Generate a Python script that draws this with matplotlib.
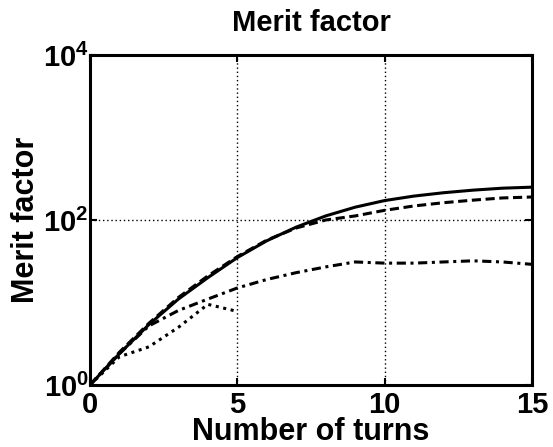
import matplotlib
matplotlib.use('Agg')
import matplotlib.pyplot as plt

plt.rcParams['font.family'] = ['Liberation Sans', 'DejaVu Sans']
plt.rcParams['font.weight'] = 'bold'
plt.rcParams['mathtext.fontset'] = 'custom'
plt.rcParams['mathtext.rm'] = 'Liberation Sans:bold'
plt.rcParams['mathtext.bf'] = 'Liberation Sans:bold'
plt.rcParams['mathtext.it'] = 'Liberation Sans:bold'

# values
turns = list(range(16))
solid = [1, 2.4, 5.4, 11, 20, 35, 56, 82, 112, 143, 172, 195, 214, 230, 243, 250]
dashed = [1, 2.5, 5.6, 11.5, 21, 36, 57, 80, 100, 112, 131, 148, 162, 174, 185, 190]
dashdot = [1, 2.4, 5.2, 8, 11, 15, 19, 23, 27, 31, 30, 30, 31, 32, 31, 29]
dot_turns = [0, 1, 2, 3, 4, 5]
dotted = [1, 2.2, 2.9, 5, 9.5, 7.8]

xticks = [0, 5, 10, 15]
yticks = [1, 100, 10000]
ytick_labels = [r'$10^{0}$', r'$10^{2}$', r'$10^{4}$']

fig = plt.figure(figsize=(5.53, 4.47), dpi=100)
ax = fig.add_axes([0.1627, 0.1387, 0.7993, 0.7383])

lw = 2.2
ax.plot(turns, solid, color='black', linestyle='-', linewidth=lw)
ax.plot(turns, dashed, color='black', linestyle=(0, (3, 1.5)), linewidth=lw)
ax.plot(turns, dashdot, color='black', linestyle=(0, (3, 1.5, 1, 1.5)), linewidth=lw)
ax.plot(dot_turns, dotted, color='black', linestyle=(0, (1, 1.5)), linewidth=lw)

ax.set_yscale('log')
ax.set_xlim(0, 15)
ax.set_ylim(1, 10000)
ax.set_xticks(xticks)
ax.set_xticklabels([str(t) for t in xticks])
ax.set_yticks(yticks)
ax.set_yticklabels(ytick_labels)
ax.minorticks_off()

ax.grid(True, color='black', linestyle=(0, (1, 2)), linewidth=1)
ax.tick_params(direction='in', length=5, width=1.5, top=True, right=True,
               labelsize=21)
ax.tick_params(axis='x', pad=4)
ax.tick_params(axis='y', pad=1)
for s in ax.spines.values():
    s.set_linewidth(2.2)

ax.set_title('Merit factor', fontsize=21, fontweight='bold', pad=17)
ax.set_xlabel('Number of turns', fontsize=22, fontweight='bold', labelpad=-1)
ax.set_ylabel('Merit factor', fontsize=22, fontweight='bold', labelpad=1)

fig.savefig('out.png', dpi=100)
